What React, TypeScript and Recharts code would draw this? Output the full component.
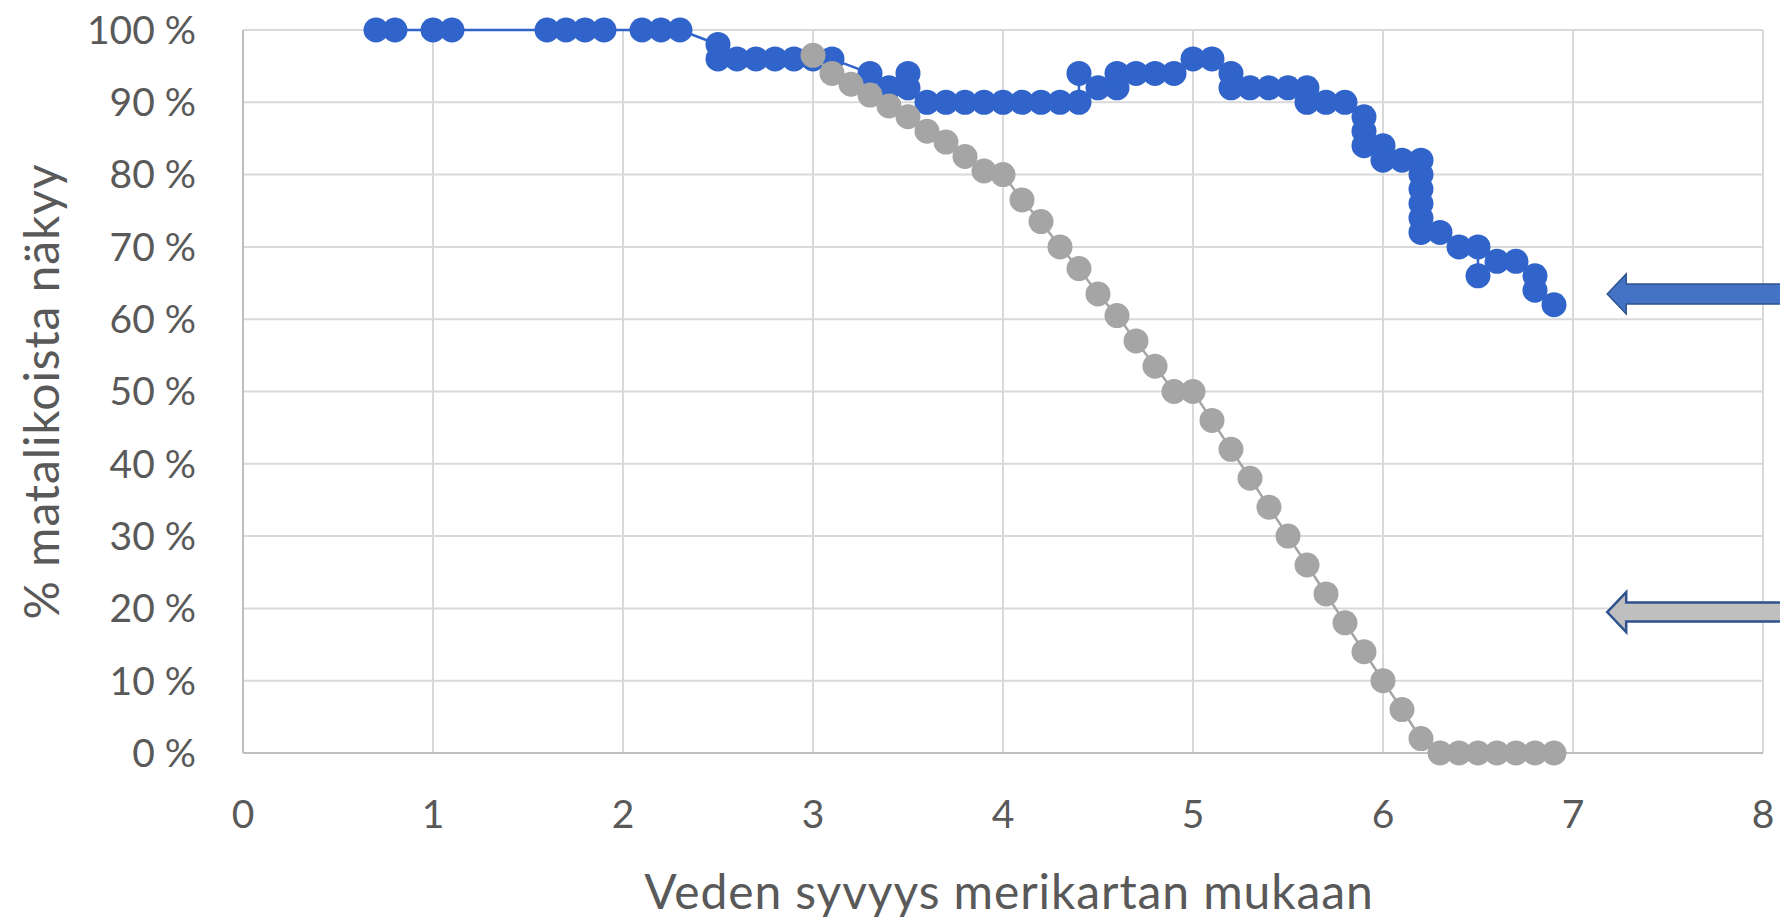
import React from 'react';
import { ScatterChart, Scatter, XAxis, YAxis, CartesianGrid, ReferenceDot } from 'recharts';

// Depth (x) and share of shoals visible (%) — blue series
const blueDepth = [
  0.7, 0.8, 1.0, 1.1, 1.6, 1.7, 1.8, 1.9, 2.1, 2.2, 2.3,
  2.5, 2.5, 2.6, 2.7, 2.8, 2.9, 3.0, 3.1,
  3.3, 3.4, 3.5, 3.5,
  3.6, 3.7, 3.8, 3.9, 4.0, 4.1, 4.2, 4.3, 4.4,
  4.4, 4.5, 4.6, 4.6, 4.7, 4.8, 4.9,
  5.0, 5.1, 5.2, 5.2, 5.3, 5.4, 5.5, 5.6,
  5.6, 5.7, 5.8, 5.9, 5.9, 5.9,
  6.0, 6.0, 6.1, 6.2, 6.2, 6.2, 6.2, 6.2, 6.2,
  6.3, 6.4, 6.5, 6.5, 6.6, 6.7, 6.8, 6.8, 6.9,
];
const blueShare = [
  100, 100, 100, 100, 100, 100, 100, 100, 100, 100, 100,
  98, 96, 96, 96, 96, 96, 96, 96,
  94, 92, 94, 92,
  90, 90, 90, 90, 90, 90, 90, 90, 90,
  94, 92, 92, 94, 94, 94, 94,
  96, 96, 94, 92, 92, 92, 92, 92,
  90, 90, 90, 88, 86, 84,
  84, 82, 82, 82, 80, 78, 76, 74, 72,
  72, 70, 70, 66, 68, 68, 66, 64, 62,
];

// Gray series
const grayDepth = [
  3.0, 3.1, 3.2, 3.3, 3.4, 3.5, 3.6, 3.7, 3.8, 3.9,
  4.0, 4.1, 4.2, 4.3, 4.4, 4.5, 4.6, 4.7, 4.8, 4.9,
  5.0, 5.1, 5.2, 5.3, 5.4, 5.5, 5.6, 5.7, 5.8, 5.9,
  6.0, 6.1, 6.2, 6.3, 6.4, 6.5, 6.6, 6.7, 6.8, 6.9,
];
const grayShare = [
  96.5, 94, 92.5, 91, 89.5, 88, 86, 84.5, 82.5, 80.5,
  80, 76.5, 73.5, 70, 67, 63.5, 60.5, 57, 53.5, 50,
  50, 46, 42, 38, 34, 30, 26, 22, 18, 14,
  10, 6, 2, 0, 0, 0, 0, 0, 0, 0,
];

const xTicks = [0, 1, 2, 3, 4, 5, 6, 7, 8];
const yTicks = [0, 10, 20, 30, 40, 50, 60, 70, 80, 90, 100];
const xTitle = 'Veden syvyys merikartan mukaan';
const yTitle = '% matalikoista näkyy';

// Arrow annotation anchors (data coordinates of arrow tips)
const arrowTipDepth = 7.18;
const blueArrowShare = 63.5;
const grayArrowShare = 19.5;

const BLUE = '#3064CA';
const GRAY = '#A5A5A5';
const TEXT = '#595959';
const FONT = 'Lato, "Open Sans", sans-serif';

const blueData = blueDepth.map((d, i) => ({ depth: d, share: blueShare[i] }));
const grayData = grayDepth.map((d, i) => ({ depth: d, share: grayShare[i] }));

const makeArrow = (fill: string, stroke: string, sw: number, shaftHalf: number) => (p: any) => {
  const cx = p.cx;
  const cy = p.cy;
  if (cx == null || cy == null) return <g />;
  const L = 19;
  const H = 20;
  const end = cx + 260;
  const d = `M ${cx} ${cy} L ${cx + L} ${cy - H} L ${cx + L} ${cy - shaftHalf} L ${end} ${cy - shaftHalf} L ${end} ${cy + shaftHalf} L ${cx + L} ${cy + shaftHalf} L ${cx + L} ${cy + H} Z`;
  return <path d={d} fill={fill} stroke={stroke} strokeWidth={sw} strokeLinejoin="miter" />;
};

const dot = (color: string) => (p: any) =>
  p.cx == null ? <g /> : <circle cx={p.cx} cy={p.cy} r={12.5} fill={color} />;

const YTitle = (p: any) => {
  const vb = p && p.viewBox ? p.viewBox : { x: 0, y: 30, width: 243, height: 723 };
  const cx = 59;
  const cy = vb.y + vb.height / 2;
  return (
    <text x={cx} y={cy} transform={`rotate(-90 ${cx} ${cy})`} textAnchor="middle" fill={TEXT} fontSize={48} letterSpacing={0.9} fontFamily={FONT}>
      {yTitle}
    </text>
  );
};

const XTitle = (p: any) => {
  const vb = p && p.viewBox ? p.viewBox : { x: 243, y: 753, width: 1520, height: 167 };
  const cx = vb.x + vb.width / 2 + 6;
  const cy = vb.y + 156;
  return (
    <text x={cx} y={cy} textAnchor="middle" fill={TEXT} fontSize={48} letterSpacing={0.9} fontFamily={FONT}>
      {xTitle}
    </text>
  );
};

export default function App() {
  return (
    <div style={{ position: 'absolute', left: 0, top: 0, width: 1780, height: 920, background: '#fff', overflow: 'hidden' }}>
      <ScatterChart width={1780} height={920} margin={{ top: 30, right: 17, bottom: 0, left: 0 }}>
        <CartesianGrid stroke="#D9D9D9" strokeWidth={2} />
        <XAxis
          type="number"
          dataKey="depth"
          domain={[0, 8]}
          ticks={xTicks}
          interval={0}
          height={167}
          tickSize={0}
          tickMargin={47}
          tickLine={false}
          axisLine={{ stroke: '#BFBFBF', strokeWidth: 2 }}
          tick={{ fill: TEXT, fontSize: 39, fontFamily: FONT }}
          label={XTitle}
        />
        <YAxis
          type="number"
          dataKey="share"
          domain={[0, 100]}
          ticks={yTicks}
          interval={0}
          width={243}
          tickSize={0}
          tickMargin={47}
          tickLine={false}
          axisLine={{ stroke: '#BFBFBF', strokeWidth: 2 }}
          tick={{ fill: TEXT, fontSize: 39, fontFamily: FONT }}
          tickFormatter={(v: number) => `${v} %`}
          label={YTitle}
        />
        <Scatter
          data={blueData}
          fill={BLUE}
          line={{ stroke: BLUE, strokeWidth: 2.5 }}
          shape={dot(BLUE)}
          isAnimationActive={false}
        />
        <Scatter
          data={grayData}
          fill={GRAY}
          line={{ stroke: GRAY, strokeWidth: 2.5 }}
          shape={dot(GRAY)}
          isAnimationActive={false}
        />
        <ReferenceDot x={arrowTipDepth} y={blueArrowShare} r={1} shape={makeArrow('#4472C4', '#2F528F', 1.5, 10)} />
        <ReferenceDot x={arrowTipDepth} y={grayArrowShare} r={1} shape={makeArrow('#BFBFBF', '#2F528F', 2.5, 9.5)} />
      </ScatterChart>
    </div>
  );
}
